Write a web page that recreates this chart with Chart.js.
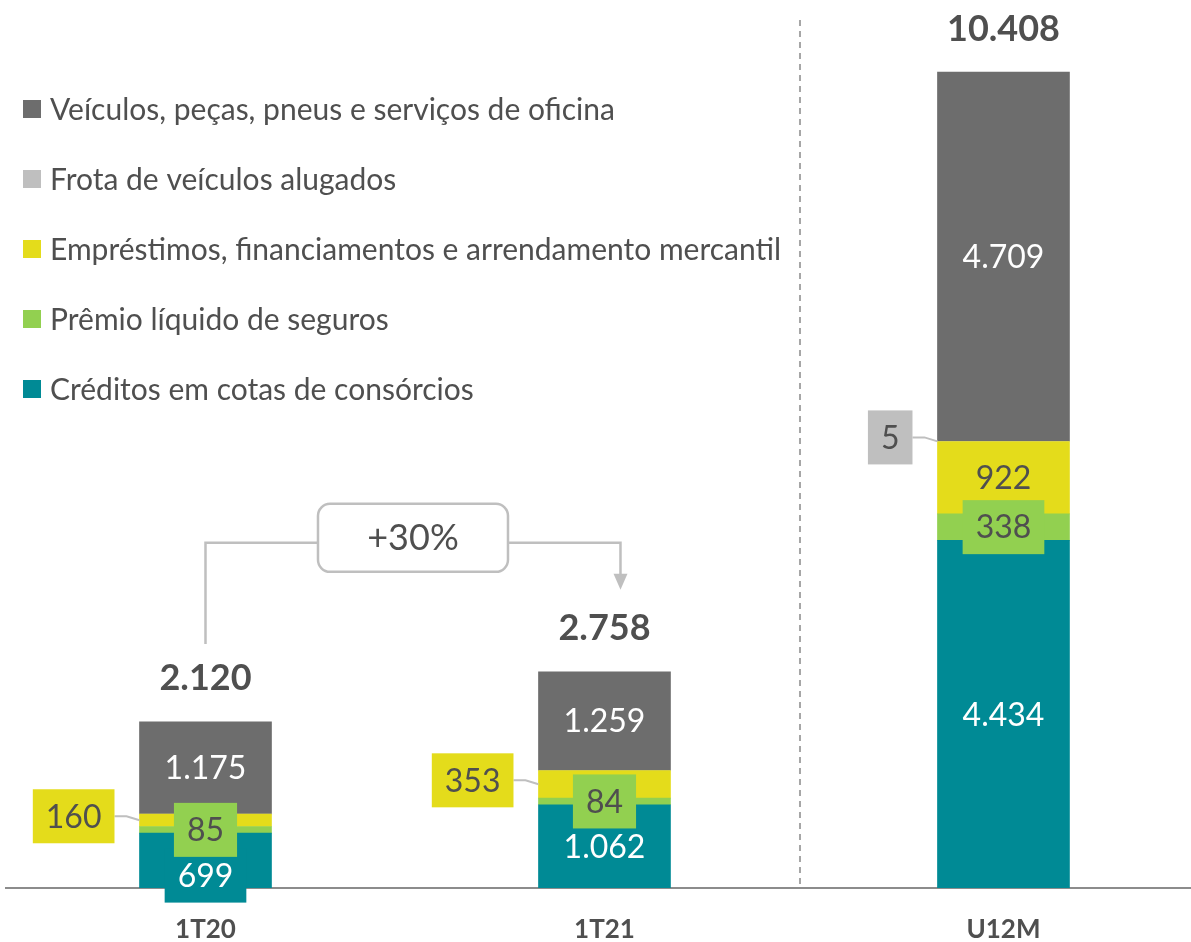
<!DOCTYPE html>
<html lang="pt-br">
<head>
  <meta charset="UTF-8" />
  <title>Carteira por produto</title>
  <script src="https://cdn.jsdelivr.net/npm/chart.js"></script>
  <style>
    * { margin: 0; padding: 0; box-sizing: border-box; }
    body { background: #fff; overflow: hidden; }
    canvas { display: block; }
  </style>
</head>
<body>
  <canvas id="grafico" width="1191" height="942"></canvas>

<script>
  // dados (R$ milhões)
  const categorias = ["1T20", "1T21", "U12M"];
  const consorcios = [699, 1062, 4434];
  const seguros = [85, 84, 338];
  const emprestimos = [160, 353, 922];
  const frota = [0, 0, 5];
  const veiculos = [1175, 1259, 4709];
  const totais = [2120, 2758, 10408];
  const variacao = "+30%";

  const nomes = [
    "Créditos em cotas de consórcios",
    "Prêmio líquido de seguros",
    "Empréstimos, financiamentos e arrendamento mercantil",
    "Frota de veículos alugados",
    "Veículos, peças, pneus e serviços de oficina"
  ];
  const cores = ["#008a95", "#92d050", "#e4dc1b", "#bfbfbf", "#6d6d6d"];

  const FONTE = "Lato, 'Open Sans', sans-serif";
  const TEXTO = "#4f4f4f";

  function fmt(v) {
    return v.toLocaleString("pt-BR");
  }

  function pontos(valores) {
    return valores.map((v, i) => ({ x: i, y: v }));
  }

  function caixaTexto(ctx, cx, cy, texto, fundo, corTexto) {
    ctx.font = "32px " + FONTE;
    const w = ctx.measureText(texto).width + 26;
    const h = 54;
    ctx.fillStyle = fundo;
    ctx.fillRect(cx - w / 2, cy - h / 2, w, h);
    ctx.fillStyle = corTexto;
    ctx.textAlign = "center";
    ctx.textBaseline = "middle";
    ctx.fillText(texto, cx, cy + 1);
    return w;
  }

  function textoCentro(ctx, x, y, texto, cor) {
    ctx.font = "32px " + FONTE;
    ctx.fillStyle = cor;
    ctx.textAlign = "center";
    ctx.textBaseline = "middle";
    ctx.fillText(texto, x, y + 1);
  }

  // caixa à esquerda da barra, com linha de ligação
  function caixaLateral(ctx, el, texto, fundo) {
    const meio = (el.y + el.base) / 2;
    const esq = el.x - el.width / 2;
    ctx.font = "32px " + FONTE;
    const w = ctx.measureText(texto).width + 26;
    const dir = esq - 25;
    const cy = meio - 4;
    ctx.strokeStyle = "#bfbfbf";
    ctx.lineWidth = 2;
    ctx.beginPath();
    ctx.moveTo(dir, cy);
    ctx.lineTo(dir + 12, cy);
    ctx.lineTo(esq, meio);
    ctx.stroke();
    caixaTexto(ctx, dir - w / 2, cy, texto, fundo, TEXTO);
  }

  const rotulos = {
    id: "rotulos",
    afterDatasetsDraw(chart) {
      const ctx = chart.ctx;
      const x = chart.scales.x;
      const area = chart.chartArea;
      ctx.save();

      // separador tracejado
      const xs = x.getPixelForValue(1.49);
      ctx.strokeStyle = "#a6a6a6";
      ctx.lineWidth = 2;
      ctx.setLineDash([6, 5]);
      ctx.beginPath();
      ctx.moveTo(xs, 20);
      ctx.lineTo(xs, area.bottom);
      ctx.stroke();
      ctx.setLineDash([]);

      categorias.forEach((c, i) => {
        const els = chart.data.datasets.map((ds, d) => chart.getDatasetMeta(d).data[i]);

        // consórcios
        let el = els[0];
        if (el.base - el.y >= 60) {
          textoCentro(ctx, el.x, (el.y + el.base) / 2, fmt(consorcios[i]), "#fff");
        } else {
          caixaTexto(ctx, el.x, (el.y + el.base) / 2 + 15, fmt(consorcios[i]), cores[0], "#fff");
        }

        // empréstimos
        el = els[2];
        if (el.base - el.y >= 60) {
          textoCentro(ctx, el.x, (el.y + el.base) / 2, fmt(emprestimos[i]), TEXTO);
        } else {
          caixaLateral(ctx, el, fmt(emprestimos[i]), cores[2]);
        }

        // seguros
        el = els[1];
        caixaTexto(ctx, el.x, (el.y + el.base) / 2, fmt(seguros[i]), cores[1], TEXTO);

        // frota
        el = els[3];
        if (frota[i] > 0) caixaLateral(ctx, el, fmt(frota[i]), cores[3]);

        // veículos
        el = els[4];
        textoCentro(ctx, el.x, (el.y + el.base) / 2, fmt(veiculos[i]), "#fff");

        // total
        ctx.font = "bold 36px " + FONTE;
        ctx.fillStyle = TEXTO;
        ctx.textAlign = "center";
        ctx.textBaseline = "middle";
        ctx.fillText(fmt(totais[i]), el.x, el.y - 43);
      });

      // variação 1T20 -> 1T21
      const a = chart.getDatasetMeta(4).data[0];
      const b = chart.getDatasetMeta(4).data[1];
      const xa = a.x;
      const xb = b.x + 16;
      const yl = b.y - 129;
      const cx = (xa + xb) / 2;
      ctx.strokeStyle = "#bfbfbf";
      ctx.lineWidth = 2.5;
      ctx.beginPath();
      ctx.moveTo(xa, a.y - 78);
      ctx.lineTo(xa, yl);
      ctx.lineTo(xb, yl);
      ctx.lineTo(xb, b.y - 97);
      ctx.stroke();
      ctx.fillStyle = "#bfbfbf";
      ctx.beginPath();
      ctx.moveTo(xb - 7, b.y - 98);
      ctx.lineTo(xb + 7, b.y - 98);
      ctx.lineTo(xb, b.y - 82);
      ctx.closePath();
      ctx.fill();

      ctx.fillStyle = "#fff";
      ctx.beginPath();
      ctx.roundRect(cx - 95, yl - 39, 190, 68, 12);
      ctx.fill();
      ctx.stroke();
      ctx.font = "36px " + FONTE;
      ctx.fillStyle = TEXTO;
      ctx.textAlign = "center";
      ctx.textBaseline = "middle";
      ctx.fillText(variacao, cx, yl - 4);

      ctx.restore();
    },
    afterDraw(chart) {
      // legenda
      const ctx = chart.ctx;
      ctx.save();
      ctx.font = "30px " + FONTE;
      ctx.textAlign = "left";
      ctx.textBaseline = "middle";
      for (let k = 0; k < nomes.length; k++) {
        const d = nomes.length - 1 - k;
        const y = 109 + 70 * k;
        ctx.fillStyle = cores[d];
        ctx.fillRect(23, y - 9, 18, 18);
        ctx.fillStyle = TEXTO;
        ctx.fillText(nomes[d], 50, y + 1);
      }
      ctx.restore();
    }
  };

  const series = [consorcios, seguros, emprestimos, frota, veiculos];

  new Chart(document.getElementById("grafico"), {
    type: "bar",
    data: {
      datasets: series.map((s, d) => ({
        label: nomes[d],
        data: pontos(s),
        backgroundColor: cores[d],
        barThickness: 132
      }))
    },
    options: {
      responsive: false,
      animation: false,
      layout: { padding: { left: 6, right: 0, top: 0, bottom: 0 } },
      plugins: {
        legend: { display: false },
        tooltip: { enabled: false }
      },
      scales: {
        x: {
          type: "linear",
          stacked: true,
          offset: false,
          min: -0.5,
          max: 2.47,
          grid: { display: false },
          border: { display: true, color: "#8c8c8c", width: 2 },
          afterBuildTicks(scale) {
            scale.ticks = categorias.map((c, i) => ({ value: i }));
          },
          afterFit(scale) {
            scale.height = 54;
          },
          ticks: {
            autoSkip: false,
            maxRotation: 0,
            padding: 18,
            color: TEXTO,
            font: { family: FONTE, size: 26, weight: "bold" },
            callback: (v) => categorias[v]
          }
        },
        y: {
          stacked: true,
          display: false,
          min: 0,
          max: 11327
        }
      }
    },
    plugins: [rotulos]
  });
</script>
</body>
</html>
